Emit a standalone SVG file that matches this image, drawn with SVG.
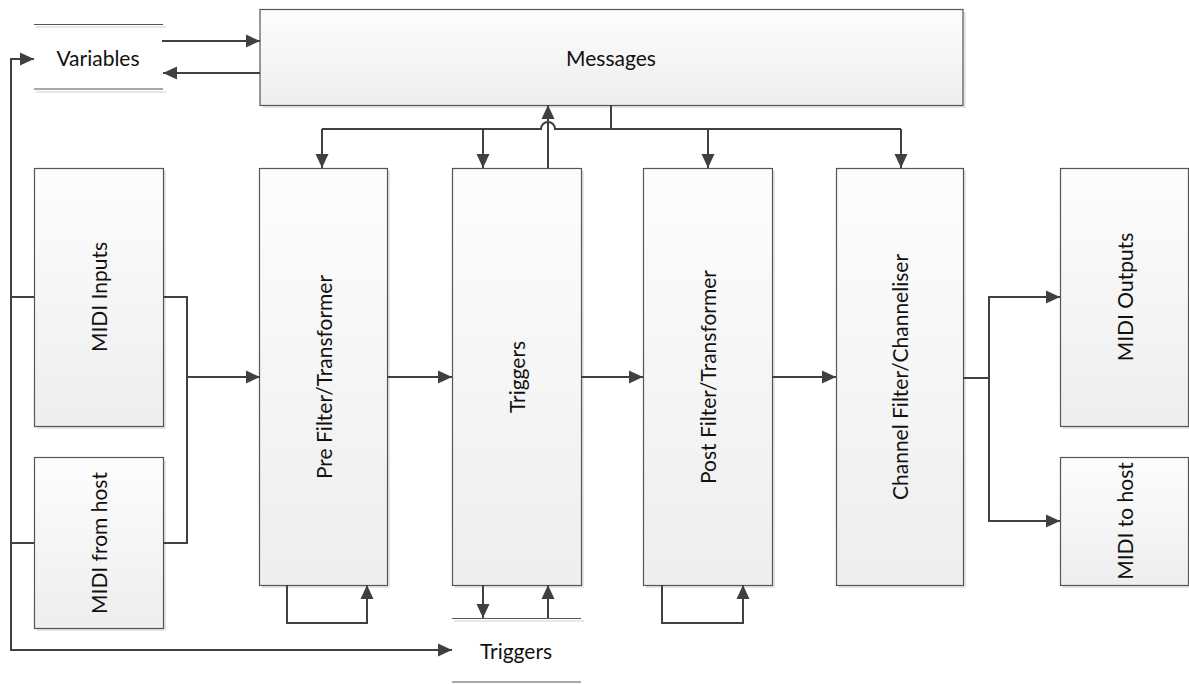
<svg xmlns="http://www.w3.org/2000/svg" width="1189" height="684" viewBox="0 0 1189 684">
<style>
.box{fill:url(#g);stroke:#555;stroke-width:1.2}
.sh{fill:#e6e6e6}
.st{stroke:#555;stroke-width:1.2;fill:none}
.stsh{stroke:#e8e8e8;stroke-width:2;fill:none}
.c{fill:none;stroke:#404040;stroke-width:2}
.a{marker-end:url(#ah)}
text{font-family:Lato,"Liberation Sans",sans-serif;font-size:21px;fill:#111;text-anchor:middle;dominant-baseline:central}
</style>
<defs>
<linearGradient id="g" x1="0" y1="0" x2="0" y2="1">
<stop offset="0" stop-color="#fdfdfd"/>
<stop offset="1" stop-color="#eeeeee"/>
</linearGradient>
<marker id="ah" markerUnits="userSpaceOnUse" markerWidth="14" markerHeight="14" refX="14" refY="7" orient="auto" viewBox="0 0 14 14">
<path d="M0,0.5 L14,7 L0,13.5 z" fill="#404040"/>
</marker>
</defs>
<rect width="1189" height="684" fill="#fff"/>

<g id="variables">
<line class="stsh" x1="36" y1="27" x2="166" y2="27"/>
<line class="stsh" x1="36" y1="92" x2="166" y2="92"/>
<line class="st" x1="34" y1="24.5" x2="163" y2="24.5"/>
<line class="st" x1="34" y1="89" x2="163" y2="89"/>
<text x="98" y="57">Variables</text>
</g>

<g id="messages">
<rect class="sh" x="263" y="12" width="703" height="96"/>
<rect class="box" x="260" y="9.5" width="703" height="96"/>
<text x="611" y="57">Messages</text>
</g>

<g id="midi-inputs">
<rect class="sh" x="37" y="171" width="129" height="258"/>
<rect class="box" x="34.5" y="168.5" width="129" height="258"/>
<text transform="translate(98,297) rotate(-90)">MIDI Inputs</text>
</g>

<g id="midi-from-host">
<rect class="sh" x="37" y="460" width="129" height="171"/>
<rect class="box" x="34.5" y="457.5" width="129" height="171"/>
<text transform="translate(98,543) rotate(-90)">MIDI from host</text>
</g>

<g id="pre-filter">
<rect class="sh" x="262" y="171" width="128" height="417"/>
<rect class="box" x="259.5" y="168.5" width="128" height="417"/>
<text transform="translate(323,377) rotate(-90)">Pre Filter/Transformer</text>
</g>

<g id="triggers">
<rect class="sh" x="455" y="171" width="129" height="417"/>
<rect class="box" x="452.5" y="168.5" width="129" height="417"/>
<text transform="translate(516,377) rotate(-90)">Triggers</text>
</g>

<g id="post-filter">
<rect class="sh" x="646" y="171" width="129" height="417"/>
<rect class="box" x="643.5" y="168.5" width="129" height="417"/>
<text transform="translate(707,377) rotate(-90)">Post Filter/Transformer</text>
</g>

<g id="channel-filter">
<rect class="sh" x="839" y="171" width="127" height="417"/>
<rect class="box" x="836.5" y="168.5" width="127" height="417"/>
<text transform="translate(899,377) rotate(-90)">Channel Filter/Channeliser</text>
</g>

<g id="midi-outputs">
<rect class="sh" x="1063" y="171" width="128" height="258"/>
<rect class="box" x="1060.5" y="168.5" width="128" height="258"/>
<text transform="translate(1124,297) rotate(-90)">MIDI Outputs</text>
</g>

<g id="midi-to-host">
<rect class="sh" x="1063" y="460" width="128" height="128"/>
<rect class="box" x="1060.5" y="457.5" width="128" height="128"/>
<text transform="translate(1124,521) rotate(-90)">MIDI to host</text>
</g>

<g id="triggers-store">
<line class="stsh" x1="454" y1="621" x2="584" y2="621"/>
<line class="st" x1="452" y1="618.5" x2="581" y2="618.5"/>
<line class="st" x1="452" y1="682" x2="581" y2="682"/>
<text x="516" y="650">Triggers</text>
</g>

<g id="connectors">
<path class="c a" d="M162,41 H260"/>
<path class="c a" d="M260,73 H163"/>
<path class="c a" d="M34,297 H11 V59 H34"/>
<path class="c a" d="M34,543 H11 V650 H452"/>
<path class="c" d="M11,297 V543"/>
<path class="c" d="M163,297 H187 V543 H163"/>
<path class="c a" d="M187,377 H260"/>
<path class="c a" d="M387,377 H452"/>
<path class="c a" d="M581,377 H643"/>
<path class="c a" d="M772,377 H836"/>
<path class="c" d="M963,378 H989"/>
<path class="c a" d="M989,378 V297 H1060"/>
<path class="c a" d="M989,378 V521 H1060"/>
<path class="c a" d="M287,585 V623 H367 V585"/>
<path class="c a" d="M662,585 V623 H743 V585"/>
<path class="c a" d="M483,585 V618"/>
<path class="c a" d="M548,618 V585"/>
<path class="c" d="M611,105 V129"/>
<path class="c" d="M322,129 H541 A7,7 0 0 1 555,129 H901"/>
<path class="c a" d="M322,129 V168"/>
<path class="c a" d="M483,129 V168"/>
<path class="c a" d="M708,129 V168"/>
<path class="c a" d="M901,129 V168"/>
<path class="c a" d="M548,168 V105"/>
</g>
</svg>
